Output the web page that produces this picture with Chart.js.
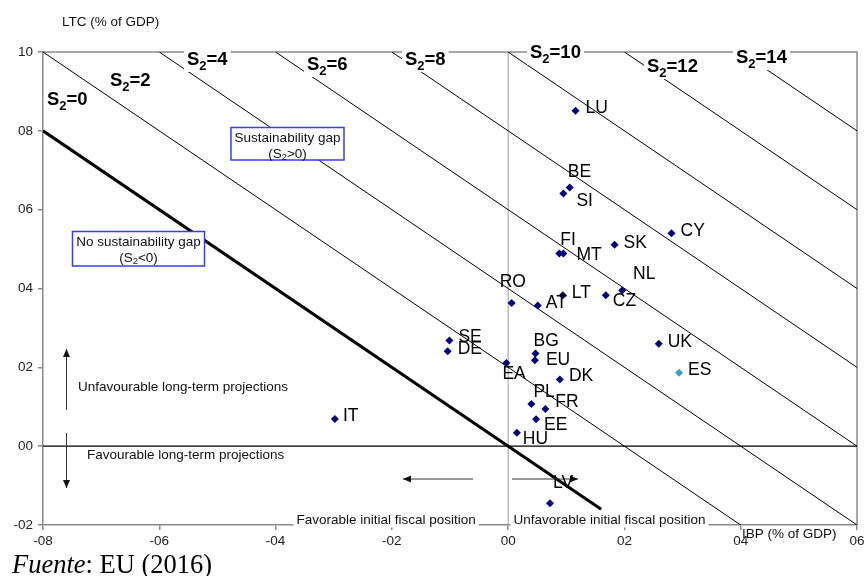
<!DOCTYPE html>
<html><head><meta charset="utf-8">
<script src="https://cdn.jsdelivr.net/npm/chart.js@4.4.1/dist/chart.umd.min.js"></script>
<style>html,body{margin:0;padding:0;background:#fff}#wrap{width:864px;height:576px;position:relative}</style>
</head><body><div id="wrap"><canvas id="c" width="864" height="576"></canvas></div>
<script>
// ---- data ----
const countries = ['LU','BE','SI','CY','SK','FI','MT','NL','CZ','LT','AT','RO','SE','DE','BG','EU','EA','UK','ES','DK','PL','FR','EE','HU','IT','LV'];
const ibp = [0.116,0.106,0.095,0.281,0.183,0.088,0.095,0.196,0.168,0.094,0.051,0.006,-0.101,-0.104,0.047,0.046,-0.003,0.259,0.294,0.089,0.040,0.064,0.048,0.015,-0.298,0.072];
const ltc = [0.851,0.656,0.641,0.540,0.511,0.489,0.489,0.395,0.383,0.383,0.357,0.363,0.268,0.241,0.235,0.218,0.211,0.260,0.186,0.169,0.107,0.094,0.068,0.034,0.069,-0.145];
const xTickLabels = ['-08','-06','-04','-02','00','02','04','06'];
const yTickLabels = ['-02','00','02','04','06','08','10'];
const s2Levels = [0,2,4,6,8,10,12,14];
const s2StartX = [-0.8,-0.8,-0.6,-0.4,-0.2,0.0,0.2,0.4];
const s2StartY = [0.8,1.0,1.0,1.0,1.0,1.0,1.0,1.0];
const s2EndX = [0.16,0.4,0.6,0.6,0.6,0.6,0.6,0.6];
const s2EndY = [-0.16,-0.2,-0.2,0.0,0.2,0.4,0.6,0.8];

// ---- layout / style (not data) ----
const FONT = '"Liberation Sans", Arial, sans-serif';
const labelOffsets = {LU:[10,-3],BE:[-2,-15],SI:[13,8],CY:[9,-2],SK:[9,-2],FI:[1,-13],MT:[13,2],NL:[11,-16],CZ:[7,6],LT:[9,-2],AT:[8,-2],RO:[-12,-21],SE:[9,-3],DE:[10,-2],BG:[-2,-12],EU:[11,0],EA:[-4,11],UK:[9,-2],ES:[9,-3],DK:[9,-3],PL:[2,-12],FR:[10,-7],EE:[8,6],HU:[6,6],IT:[8,-3],LV:[3,-20]};
const s2LabelPos = [[47,105],[110,86],[187,65],[307,70],[405,65],[530,58],[647,72],[736,63]];
const pointColors = countries.map(c => c === 'ES' ? '#3a9fd0' : '#000080');

const datasets = [];
datasets.push({
  label: 'countries',
  data: countries.map((c, i) => ({x: ibp[i], y: ltc[i]})),
  pointStyle: 'rectRot', pointRadius: 4, pointHoverRadius: 4,
  backgroundColor: pointColors, borderColor: pointColors, borderWidth: 0, showLine: false
});
s2Levels.forEach((lv, i) => {
  datasets.push({
    label: 'S2=' + lv,
    data: [{x: s2StartX[i], y: s2StartY[i]}, {x: s2EndX[i], y: s2EndY[i]}],
    showLine: true, borderColor: '#000', borderWidth: i === 0 ? 3 : 1, pointRadius: 0, fill: false
  });
});
datasets.push({label:'x0', data:[{x:0,y:-0.2},{x:0,y:1.0}], showLine:true, borderColor:'#9a9a9a', borderWidth:1, pointRadius:0});
datasets.push({label:'y0', data:[{x:-0.8,y:0},{x:0.6,y:0}], showLine:true, borderColor:'#000', borderWidth:1.2, pointRadius:0});

function arrow(ctx, x1, y1, x2, y2) {
  ctx.beginPath(); ctx.moveTo(x1, y1); ctx.lineTo(x2, y2); ctx.stroke();
  const ang = Math.atan2(y2 - y1, x2 - x1), L = 8, W = 3.5;
  ctx.beginPath();
  ctx.moveTo(x2, y2);
  ctx.lineTo(x2 - L*Math.cos(ang) + W*Math.sin(ang), y2 - L*Math.sin(ang) - W*Math.cos(ang));
  ctx.lineTo(x2 - L*Math.cos(ang) - W*Math.sin(ang), y2 - L*Math.sin(ang) + W*Math.cos(ang));
  ctx.closePath(); ctx.fill();
}
function subText(ctx, parts, cx, cy, size) {
  let w = 0;
  parts.forEach(p => { ctx.font = (p[1] ? size*0.7 : size) + 'px ' + FONT; w += ctx.measureText(p[0]).width; });
  let x = cx - w/2;
  ctx.textAlign = 'left'; ctx.textBaseline = 'middle';
  parts.forEach(p => { ctx.font = (p[1] ? size*0.7 : size) + 'px ' + FONT; ctx.fillText(p[0], x, cy + (p[1] ? 3 : 0)); x += ctx.measureText(p[0]).width; });
}

const deco = {
  id: 'deco',
  beforeDatasetsDraw(chart) {
    const {ctx, chartArea: a} = chart;
    ctx.save(); ctx.strokeStyle = '#8a8a8a'; ctx.lineWidth = 1.5;
    ctx.beginPath(); ctx.moveTo(a.left, a.top); ctx.lineTo(a.right, a.top); ctx.lineTo(a.right, a.bottom); ctx.stroke();
    ctx.restore();
  },
  afterDatasetsDraw(chart) {
    const {ctx} = chart;
    const sx = chart.scales.x, sy = chart.scales.y;
    ctx.save();
    s2Levels.forEach((lv, i) => {
      const [left, base] = s2LabelPos[i];
      ctx.font = 'bold 18.5px ' + FONT; const wS = ctx.measureText('S').width; const wR = ctx.measureText('=' + lv).width;
      ctx.font = 'bold 13px ' + FONT; const w2 = ctx.measureText('2').width;
      ctx.fillStyle = '#fff'; ctx.fillRect(left - 3, base - 16, wS + w2 + wR + 6, 23);
      ctx.fillStyle = '#000'; ctx.textAlign = 'left'; ctx.textBaseline = 'alphabetic';
      ctx.font = 'bold 18.5px ' + FONT; ctx.fillText('S', left, base);
      ctx.font = 'bold 13px ' + FONT; ctx.fillText('2', left + wS, base + 5);
      ctx.font = 'bold 18.5px ' + FONT; ctx.fillText('=' + lv, left + wS + w2, base);
    });
    const boxes = [
      {x1:231, y1:127.5, x2:344, y2:160, l1:'Sustainability gap', l2:[['(S',0],['2',1],['>0)',0]]},
      {x1:72.5, y1:231.5, x2:204.5, y2:266, l1:'No sustainability gap', l2:[['(S',0],['2',1],['<0)',0]]}
    ];
    boxes.forEach(b => {
      ctx.fillStyle = '#fff'; ctx.fillRect(b.x1, b.y1, b.x2 - b.x1, b.y2 - b.y1);
      ctx.strokeStyle = '#3b3bff'; ctx.lineWidth = 1.5; ctx.strokeRect(b.x1, b.y1, b.x2 - b.x1, b.y2 - b.y1);
      const cx = (b.x1 + b.x2) / 2;
      ctx.fillStyle = '#111'; ctx.font = '13.5px ' + FONT; ctx.textAlign = 'center'; ctx.textBaseline = 'middle';
      ctx.fillText(b.l1, cx, b.y1 + 10.5);
      subText(ctx, b.l2, cx, b.y1 + 26.5, 13.5);
    });
    ctx.strokeStyle = '#333'; ctx.fillStyle = '#111'; ctx.lineWidth = 1;
    arrow(ctx, 66.5, 410, 66.5, 349);
    arrow(ctx, 66.5, 433, 66.5, 488);
    arrow(ctx, 473, 479, 403, 479);
    arrow(ctx, 512, 479, 578, 479);
    ctx.fillStyle = '#111'; ctx.font = '13.5px ' + FONT; ctx.textAlign = 'left'; ctx.textBaseline = 'middle';
    ctx.fillText('Unfavourable long-term projections', 78, 387);
    ctx.fillText('Favourable long-term projections', 87, 455);
    [['Favorable initial fiscal position', 296.5], ['Unfavorable initial fiscal position', 513.5]].forEach(t => {
      const w = ctx.measureText(t[0]).width;
      ctx.fillStyle = '#fff'; ctx.fillRect(t[1] - 3, 512, w + 6, 15.5);
      ctx.fillStyle = '#111'; ctx.fillText(t[0], t[1], 520);
    });
    ctx.fillText('IBP (% of GDP)', 742, 534);
    ctx.fillText('LTC (% of GDP)', 62, 22);
    ctx.font = '17.5px ' + FONT; ctx.fillStyle = '#000';
    countries.forEach((c, i) => {
      const px = sx.getPixelForValue(ibp[i]), py = sy.getPixelForValue(ltc[i]);
      const o = labelOffsets[c];
      ctx.fillText(c, px + o[0], py + o[1]);
    });
    ctx.textBaseline = 'alphabetic';
    ctx.font = 'italic 26.5px "Liberation Serif", "Times New Roman", serif';
    ctx.fillText('Fuente', 12, 572.5);
    const wf = ctx.measureText('Fuente').width;
    ctx.font = '26.5px "Liberation Serif", "Times New Roman", serif';
    ctx.fillText(': EU (2016)', 12 + wf, 572.5);
    ctx.restore();
  }
};

new Chart(document.getElementById('c'), {
  type: 'scatter',
  data: {datasets},
  options: {
    responsive: false, devicePixelRatio: 1, animation: false,
    layout: {padding: {top: 52, right: 7, left: 0, bottom: 0}},
    plugins: {legend: {display: false}, tooltip: {enabled: false}},
    events: [],
    scales: {
      x: {
        type: 'linear', min: -0.8, max: 0.6,
        afterFit: s => { s.height = 51; s.paddingLeft = 0; s.paddingRight = 0; },
        ticks: {stepSize: 0.2, color: '#222', font: {family: FONT, size: 13.5}, padding: 3,
          callback: (v, i) => xTickLabels[i]},
        grid: {drawOnChartArea: false, drawTicks: true, tickLength: 5, color: '#8a8a8a', lineWidth: 1.5},
        border: {color: '#8a8a8a', width: 1.5}
      },
      y: {
        type: 'linear', min: -0.2, max: 1.0,
        afterFit: s => { s.width = 43; s.paddingTop = 0; s.paddingBottom = 0; },
        ticks: {stepSize: 0.2, color: '#222', font: {family: FONT, size: 13.5}, padding: 5,
          callback: (v, i) => yTickLabels[i]},
        grid: {drawOnChartArea: false, drawTicks: true, tickLength: 5, color: '#8a8a8a', lineWidth: 1.5},
        border: {color: '#8a8a8a', width: 1.5}
      }
    }
  },
  plugins: [deco]
});
</script></body></html>
